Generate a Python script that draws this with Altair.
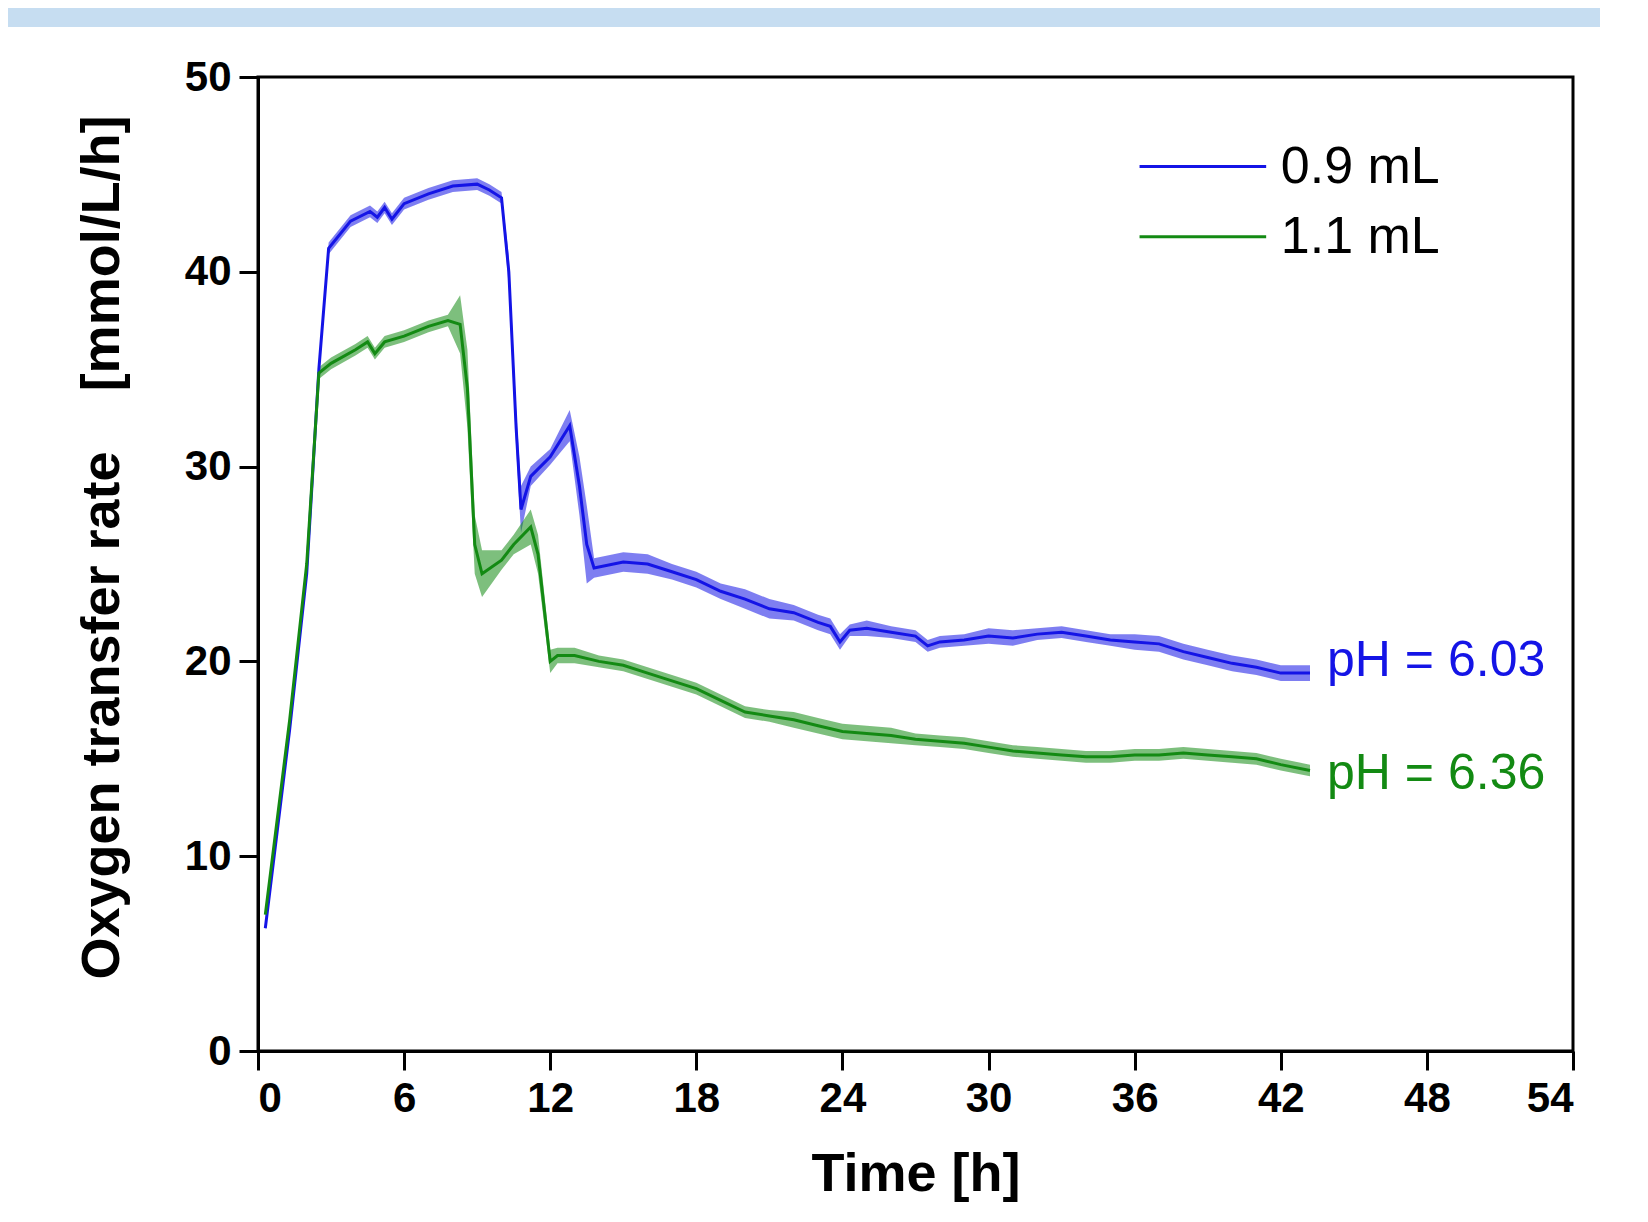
import altair as alt
import pandas as pd

# 0.9 mL series (blue)
t_blue = [0.3, 1.3, 2.0, 2.5, 2.9, 3.8, 4.6, 4.9, 5.2, 5.5, 6, 7, 8, 9, 9.5, 10, 10.3, 10.6, 10.8, 11.2, 12, 12.8,
          13.2, 13.5, 13.8, 15, 16, 17, 18, 19, 20, 21, 22, 23, 23.5, 23.9, 24.3, 25, 26, 27, 27.5, 28, 29, 30,
          31, 32, 33, 34, 35, 36, 37, 38, 39, 40, 41, 42, 43.2]
y_blue = [6.3, 16.5, 24.5, 35, 41.2, 42.6, 43.1, 42.8, 43.3, 42.7, 43.5, 44, 44.4, 44.5, 44.2, 43.8, 40, 32, 27.8, 29.5,
          30.5, 32.1, 29, 26, 24.8, 25.1, 25, 24.6, 24.2, 23.6, 23.2, 22.7, 22.5, 22, 21.8, 21, 21.6, 21.7, 21.5,
          21.3, 20.8, 21, 21.1, 21.3, 21.2, 21.4, 21.5, 21.3, 21.1, 21, 20.9, 20.5, 20.2, 19.9, 19.7, 19.4, 19.4]
sd_blue = [0.1, 0.2, 0.3, 0.3, 0.3, 0.3, 0.3, 0.3, 0.3, 0.3, 0.3, 0.3, 0.3, 0.3, 0.3, 0.3, 0.8, 1.0, 1.2, 0.5,
           0.4, 0.8, 1.5, 2.0, 0.5, 0.5, 0.5, 0.4, 0.4, 0.4, 0.5, 0.5, 0.4, 0.4, 0.4, 0.4, 0.3, 0.4, 0.3,
           0.3, 0.3, 0.3, 0.3, 0.4, 0.4, 0.3, 0.3, 0.3, 0.3, 0.4, 0.4, 0.4, 0.4, 0.4, 0.4, 0.4, 0.4]

# 1.1 mL series (green)
t_green = [0.3, 1.3, 2.0, 2.5, 3, 4, 4.5, 4.8, 5.2, 6, 7, 7.8, 8.3, 8.6, 8.9, 9.2, 10, 10.5, 11.2, 11.5, 12, 12.3,
           13, 14, 15, 16, 17, 18, 19, 20, 21, 22, 23, 24, 25, 26, 27, 28, 29, 30, 31, 32, 33, 34, 35, 36, 37,
           38, 39, 40, 41, 42, 43.2]
y_green = [7.0, 17, 25, 34.8, 35.3, 36, 36.4, 35.8, 36.4, 36.7, 37.2, 37.5, 37.3, 34, 26, 24.5, 25.2, 26, 26.9,
           25.5, 20, 20.3, 20.3, 20, 19.8, 19.4, 19, 18.6, 18, 17.4, 17.2, 17, 16.7, 16.4, 16.3, 16.2, 16, 15.9,
           15.8, 15.6, 15.4, 15.3, 15.2, 15.1, 15.1, 15.2, 15.2, 15.3, 15.2, 15.1, 15, 14.7, 14.4]
sd_green = [0.1, 0.2, 0.3, 0.3, 0.3, 0.3, 0.3, 0.3, 0.3, 0.3, 0.3, 0.3, 1.5, 2.0, 1.5, 1.2, 0.5, 0.5, 0.9,
            1.0, 0.6, 0.4, 0.4, 0.3, 0.3, 0.3, 0.3, 0.3, 0.3, 0.3, 0.3, 0.4, 0.4, 0.4, 0.4, 0.4, 0.3, 0.3,
            0.3, 0.3, 0.3, 0.3, 0.3, 0.3, 0.3, 0.3, 0.3, 0.3, 0.3, 0.3, 0.3, 0.3, 0.3]

series = ["0.9 mL", "1.1 mL"]
colors = ["#1414e6", "#138a13"]
ph_labels = ["pH = 6.03", "pH = 6.36"]

FONT = "Liberation Sans"


def make_df(t, y, sd, name):
    df = pd.DataFrame({"t": t, "y": y, "sd": sd})
    df["lower"] = df["y"] - df["sd"]
    df["upper"] = df["y"] + df["sd"]
    df["series"] = name
    return df


df = pd.concat([make_df(t_blue, y_blue, sd_blue, series[0]),
                make_df(t_green, y_green, sd_green, series[1])])

color = alt.Color("series:N", scale=alt.Scale(domain=series, range=colors), legend=None)

x = alt.X("t:Q", scale=alt.Scale(domain=[0, 54], nice=False),
          axis=alt.Axis(values=list(range(0, 55, 6)), title="Time [h]"))
y = alt.Y("y:Q", scale=alt.Scale(domain=[0, 50], nice=False),
          axis=alt.Axis(values=list(range(0, 51, 10)),
                        title="Oxygen transfer rate\u00a0\u00a0\u00a0\u00a0[mmol/L/h]",
                        titleY=470))

# light blue banner across the top of the page
banner = alt.Chart(pd.DataFrame({"a": [0]})).mark_rect(color="#c6ddf1", clip=False).encode(
    x=alt.value(-258), x2=alt.value(1342), y=alt.value(-77), y2=alt.value(-50))

band = alt.Chart(df).mark_area(opacity=0.55).encode(
    x=x, y=alt.Y("lower:Q"), y2="upper:Q", color=color, detail="series:N"
)
line = alt.Chart(df).mark_line(strokeWidth=3).encode(x=x, y=y, color=color)

# legend drawn in data space
leg = pd.DataFrame({"series": series, "x1": [36.2, 36.2], "x2": [41.4, 41.4],
                    "ly": [45.4, 41.8], "tx": [42.0, 42.0]})
leg_lines = alt.Chart(leg).mark_rule(strokeWidth=3).encode(
    x="x1:Q", x2="x2:Q", y="ly:Q", color=color)
leg_text = alt.Chart(leg).mark_text(align="left", baseline="middle", fontSize=52, font=FONT).encode(
    x="tx:Q", y="ly:Q", text="series:N", color=alt.value("black"))

ph = pd.DataFrame({"series": series, "label": ph_labels, "px": [43.9, 43.9], "py": [20.0, 14.2]})
ph_text = alt.Chart(ph).mark_text(align="left", baseline="middle", fontSize=50, font=FONT).encode(
    x="px:Q", y="py:Q", text="label:N", color=color)

chart = alt.layer(banner, band, line, leg_lines, leg_text, ph_text).properties(
    width=1315, height=974,
    autosize=alt.AutoSizeParams(type="none"),
    padding={"left": 250, "top": 69, "right": 60, "bottom": 160},
).configure_view(
    stroke="black", strokeWidth=3
).configure_axis(
    domainColor="black", domainWidth=3, tickColor="black", tickWidth=3, tickSize=19,
    labelFont=FONT, labelFontSize=42, labelFontWeight="bold", labelColor="black",
    titleFont=FONT, titleFontSize=54, titleFontWeight="bold", titleColor="black",
    grid=False
).configure_axisX(
    labelPadding=8, titlePadding=28
).configure_axisY(
    labelPadding=8, titlePadding=55
)

chart.save("out.html", embed_options={"renderer": "svg", "actions": False})
